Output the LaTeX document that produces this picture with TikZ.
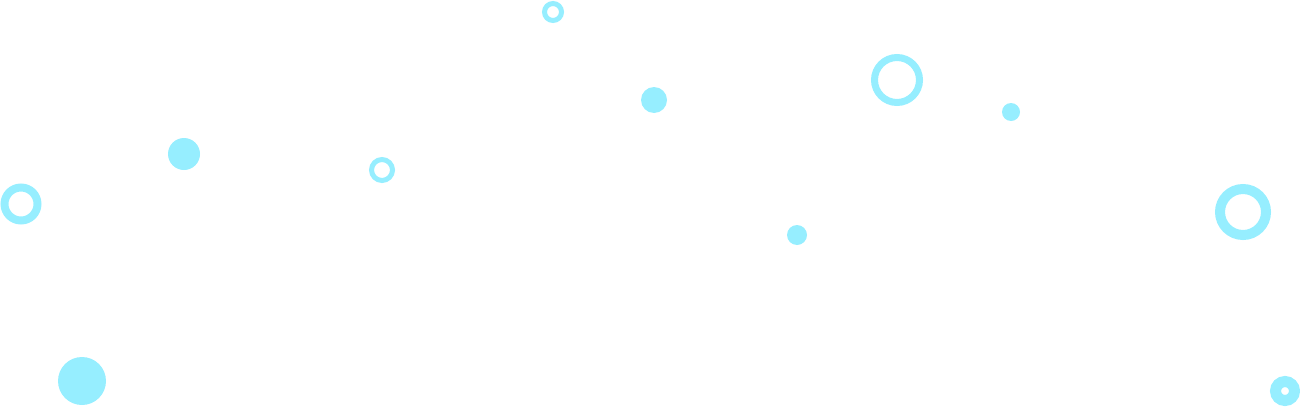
\documentclass[tikz,border=0pt]{standalone}
\definecolor{bubble}{HTML}{96EEFF}
\tikzset{dot/.style={fill=bubble},ring/.style={draw=bubble}}
\begin{document}
\begin{tikzpicture}[x=0.5pt,y=-0.5pt]
\useasboundingbox (0,0) rectangle (1300,407);
% filled dots
\foreach \x/\y/\r in {654/100/13, 1011/112/9, 184/154/16, 797/235/10, 82/381/24}
  \fill[dot] (\x,\y) circle[radius=\r];
% rings: centre, mid radius, width
\foreach \x/\y/\r/\w in {553/12/8.5/5, 897/80/22.5/7, 382/170/10.5/5, 21/204/16.5/8, 1243/212/23/10, 1285/391/9.5/11}
  \draw[ring,line width=\w*0.5pt] (\x,\y) circle[radius=\r];
\end{tikzpicture}
\end{document}
